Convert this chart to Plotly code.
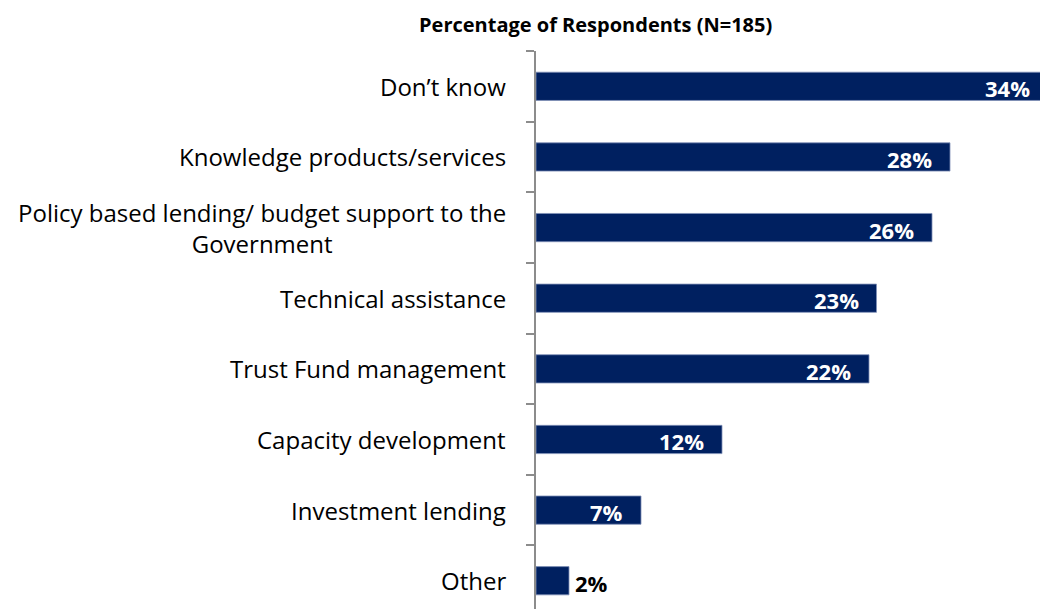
import plotly.graph_objects as go

categories = [
    "Don’t know",
    "Knowledge products/services",
    "Policy based lending/ budget support to the<br>Government",
    "Technical assistance",
    "Trust Fund management",
    "Capacity development",
    "Investment lending",
    "Other",
]
values = [34.1, 27.6, 26.4, 22.7, 22.2, 12.4, 7.0, 2.2]
value_labels = ["34%", "28%", "26%", "23%", "22%", "12%", "7%", "2%"]
title_text = "Percentage of Respondents (N=185)"

BAR_COLOR = "#002060"
FONT = "Open Sans"

# page body has an 8px default margin; figure coords = screen coords - 8
ML, MT, MR, MB = 528, 43, 8, 8
W, H = 1048, 609
plot_w = W - ML - MR
plot_h = H - MT - MB

fig = go.Figure()
fig.add_trace(go.Bar(
    y=categories,
    x=values,
    orientation="h",
    marker=dict(color=BAR_COLOR, line=dict(color="#8090b8", width=0.8)),
    hoverinfo="skip",
))

annotations = []
for cat in categories:
    annotations.append(dict(
        x=0, xref="paper", y=cat, yref="y",
        text=cat, showarrow=False, xanchor="right", yanchor="middle",
        align="center", xshift=-28,
        font=dict(family=FONT, size=24, color="#000000"),
    ))
for cat, v, lab in zip(categories, values, value_labels):
    inside = v >= 5
    annotations.append(dict(
        x=v, xref="x", y=cat, yref="y",
        text="<b>%s</b>" % lab, showarrow=False,
        xanchor="right" if inside else "left",
        xshift=-16 if inside else 4, yshift=-2,
        font=dict(family=FONT, size=22, color="#FFFFFF" if inside else "#000000"),
    ))
annotations.append(dict(
    x=(595 - 8 - ML) / plot_w, xref="paper",
    y=1 + (MT - (25 - 8)) / plot_h, yref="paper",
    text="<b>%s</b>" % title_text, showarrow=False,
    xanchor="center", yanchor="middle",
    font=dict(family=FONT, size=20, color="#000000"),
))

fig.update_layout(
    width=W, height=H,
    margin=dict(l=ML, r=MR, t=MT, b=MB, pad=0),
    paper_bgcolor="white", plot_bgcolor="white",
    showlegend=False,
    bargap=0.6,
    xaxis=dict(range=[0, plot_w / 15.0], visible=False, fixedrange=True),
    yaxis=dict(
        type="category",
        range=[7.4, -0.5],
        showticklabels=False,
        showline=True, linecolor="#8c8c8c", linewidth=2,
        ticks="outside", ticklen=8, tickwidth=2, tickcolor="#8c8c8c",
        tickson="boundaries",
        showgrid=False, zeroline=False,
    ),
    annotations=annotations,
)

fig.write_html("out.html")
